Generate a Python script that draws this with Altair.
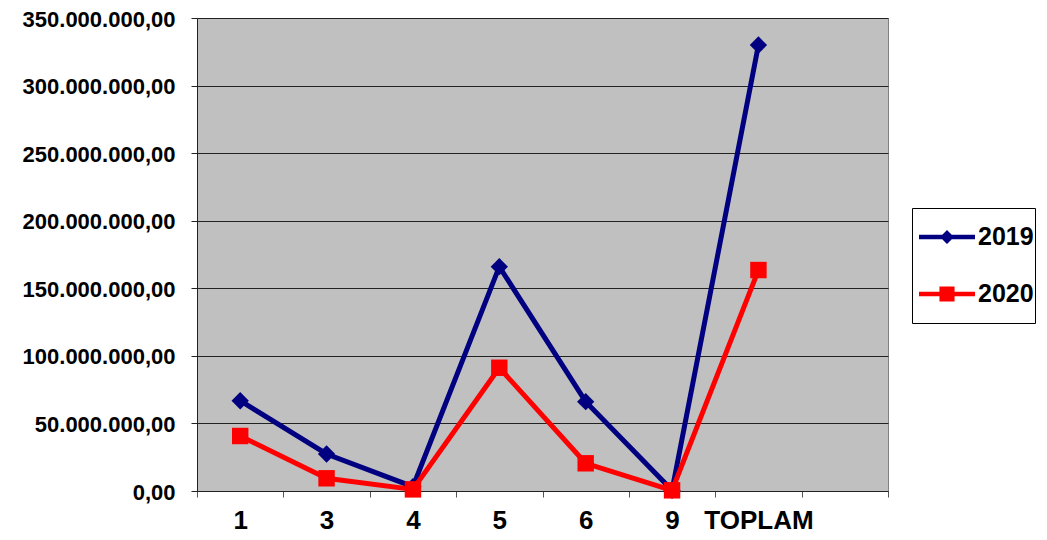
import altair as alt
import pandas as pd

categories = ["1", "3", "4", "5", "6", "9", "TOPLAM"]
x_domain = categories + [""]
years = ["2019", "2020"]
values_2019 = [66.8e6, 27.4e6, 3.2e6, 166.0e6, 66.1e6, 0.5e6, 330.0e6]
values_2020 = [40.7e6, 9.4e6, 1.2e6, 91.2e6, 20.5e6, 0.5e6, 163.5e6]
y_ticks = [0, 50e6, 100e6, 150e6, 200e6, 250e6, 300e6, 350e6]

colors = ["#000080", "#FF0000"]
shapes = ["diamond", "square"]
sizes = [300, 270]

rows = []
for c, a, b in zip(categories, values_2019, values_2020):
    rows.append({"kat": c, "yil": "2019", "deger": a})
    rows.append({"kat": c, "yil": "2020", "deger": b})
df = pd.DataFrame(rows)

FONT = "Liberation Sans"
label_expr = ("replace(join(split(replace(format(datum.value, ',.2f'), '.', '#'), ','), '.'), '#', ',')")

x_enc = alt.X(
    "kat:N",
    scale=alt.Scale(type="band", domain=x_domain, paddingInner=0, paddingOuter=0),
    sort=x_domain,
    axis=alt.Axis(
        title=None, labelAngle=0, tickBand="extent", tickSize=6, tickColor="#555555",
        domainColor="#222222", labelFontSize=26, labelFont=FONT, labelFontWeight="bold",
        labelColor="black", labelPadding=10, grid=False,
    ),
)
y_enc = alt.Y(
    "deger:Q",
    scale=alt.Scale(domain=[0, 350e6], nice=False, zero=True),
    axis=alt.Axis(
        title=None, values=y_ticks, labelExpr=label_expr, tickSize=6, tickColor="#222222",
        domainColor="#222222", gridColor="#222222", gridWidth=1, labelFontSize=22,
        labelFont=FONT, labelFontWeight="bold", labelColor="black", labelPadding=16,
        labelOffset=1,
    ),
)

base = alt.Chart(df)
layers = []
for yr, col, shp, sz in zip(years, colors, shapes, sizes):
    sub = base.transform_filter(alt.datum.yil == yr)
    layers.append(sub.mark_line(color=col, strokeWidth=5).encode(x=x_enc, y=y_enc))
    layers.append(
        sub.mark_point(shape=shp, filled=True, size=sz, color=col, opacity=1, strokeWidth=0)
        .encode(x=x_enc, y=y_enc)
    )

extent = "M0,-1L0,-1Z M0,1L0,1Z "
diamond_path = extent + "M-1,-0.08L1,-0.08L1,0.08L-1,0.08Z M0,-0.25L0.25,0L0,0.25L-0.25,0Z"
square_path = extent + "M-1,-0.08L1,-0.08L1,0.08L-1,0.08Z M-0.27,-0.27L0.27,-0.27L0.27,0.27L-0.27,0.27Z"

legend_props = dict(
    title=None, orient="none", legendX=715, legendY=190, strokeColor="black",
    fillColor="white", padding=1, rowPadding=1, symbolOffset=6, labelOffset=3,
    labelFontSize=25, labelFont=FONT, labelFontWeight="bold", labelColor="black",
    symbolSize=3136, symbolStrokeWidth=0, symbolOpacity=1,
)
legend_layer = base.mark_point(filled=True, opacity=0).encode(
    x=x_enc,
    y=y_enc,
    color=alt.Color("yil:N", scale=alt.Scale(domain=years, range=colors),
                    legend=alt.Legend(**legend_props)),
    shape=alt.Shape("yil:N", scale=alt.Scale(domain=years, range=[diamond_path, square_path]),
                    legend=alt.Legend(**legend_props)),
)
layers.append(legend_layer)

chart = alt.layer(*layers).properties(
    width=691, height=473,
    autosize=alt.AutoSizeParams(type="none"),
    padding={"left": 189, "top": 10, "right": 151, "bottom": 48},
    background="white",
).configure_view(
    fill="#C0C0C0", stroke="#808080", strokeWidth=1
)

chart.save("out.html", embed_options={"renderer": "svg", "actions": False})
